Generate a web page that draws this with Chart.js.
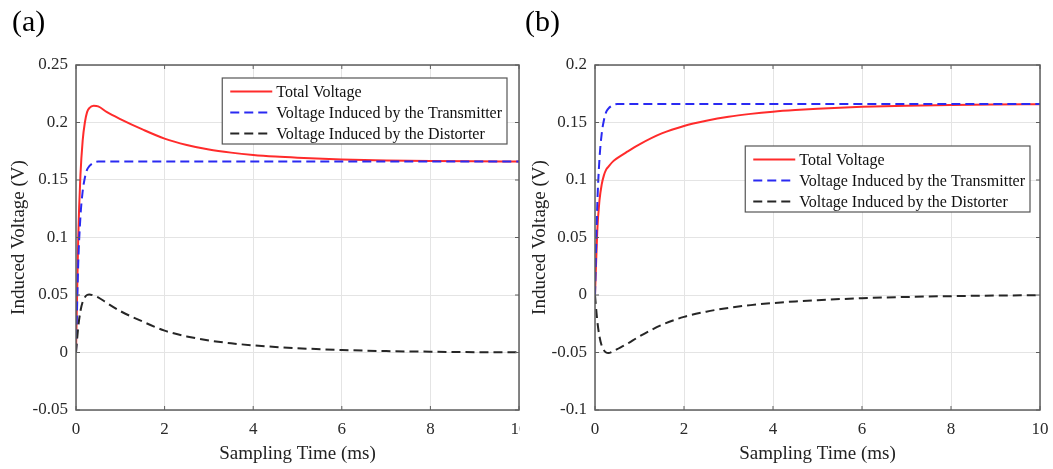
<!DOCTYPE html>
<html>
<head>
<meta charset="utf-8">
<script src="https://cdn.jsdelivr.net/npm/chart.js@4.4.1/dist/chart.umd.min.js"></script>
<style>
  html, body { margin: 0; padding: 0; background: #fff; width: 1053px; height: 469px; overflow: hidden; }
  .panel { position: absolute; top: 0; height: 469px; overflow: hidden; }
  .tag { position: absolute; font-family: 'Liberation Serif', 'Times New Roman', serif; font-size: 30px; line-height: 30px; color: #000; }
</style>
</head>
<body>
<div class="panel" style="left:0;width:520px"><canvas id="chartA" width="545" height="469" style="width:545px;height:469px"></canvas></div>
<div class="panel" style="left:521px;width:537px"><canvas id="chartB" width="537" height="469" style="width:537px;height:469px"></canvas></div>
<div class="tag" style="left:12px;top:6px">(a)</div>
<div class="tag" style="left:525px;top:6px">(b)</div>
<script>
// Sampling instants (ms)
const timeMs = [0, 0.05, 0.1, 0.15, 0.2, 0.25, 0.3, 0.4, 0.5, 0.7, 1, 1.5, 2, 2.5, 3, 3.5, 4, 4.5, 5, 6, 7, 8, 9, 10];

// Voltage induced by the transmitter (same in both cases)
const transmitterV = [0, 0.077, 0.118, 0.140, 0.152, 0.159, 0.162, 0.165, 0.166, 0.166, 0.166, 0.166, 0.166, 0.166, 0.166, 0.166, 0.166, 0.166, 0.166, 0.166, 0.166, 0.166, 0.166, 0.166];

// Case (a)
const distorterA = [0, 0.022, 0.036, 0.044, 0.048, 0.050, 0.0505, 0.0495, 0.048, 0.043, 0.036, 0.027, 0.019, 0.014, 0.0105, 0.0080, 0.0062, 0.0048, 0.0037, 0.0022, 0.0012, 0.0007, 0.0003, 0.0001];
const totalA = [0, 0.099, 0.154, 0.184, 0.200, 0.209, 0.2125, 0.2145, 0.214, 0.209, 0.203, 0.194, 0.186, 0.1805, 0.1765, 0.1738, 0.1718, 0.1704, 0.1694, 0.1679, 0.1670, 0.1665, 0.1662, 0.1661];

// Case (b)
const distorterB = [0, -0.022, -0.036, -0.044, -0.048, -0.050, -0.0505, -0.049, -0.047, -0.043, -0.036, -0.026, -0.019, -0.0145, -0.0112, -0.0088, -0.0070, -0.0056, -0.0045, -0.0028, -0.0017, -0.0010, -0.0005, -0.0002];
const totalB = [0, 0.055, 0.082, 0.096, 0.104, 0.109, 0.1115, 0.116, 0.119, 0.124, 0.131, 0.1405, 0.147, 0.1515, 0.155, 0.1575, 0.1594, 0.1608, 0.1619, 0.1636, 0.1646, 0.1652, 0.1656, 0.1659];

// Tick values
const xTicks = [0, 2, 4, 6, 8, 10];
const yTicksA = [-0.05, 0, 0.05, 0.1, 0.15, 0.2, 0.25];
const yTicksB = [-0.1, -0.05, 0, 0.05, 0.1, 0.15, 0.2];

const seriesLabels = ['Total Voltage', 'Voltage Induced by the Transmitter', 'Voltage Induced by the Distorter'];
const seriesColors = ['#ff2b2b', '#2a2af2', '#262626'];

const SERIF = "'Liberation Serif', 'Times New Roman', serif";
const FRAME = '#5e5e5e';

const pts = ys => timeMs.map((t, i) => ({ x: t, y: ys[i] }));
const fmt = v => String(Number(v.toFixed(2)));

// Box frame, inward ticks and the in-plot legend
const framePlugin = {
  id: 'frame',
  afterDatasetsDraw(chart, args, opts) {
    const { ctx, chartArea: a, scales: { x, y } } = chart;
    ctx.save();
    ctx.strokeStyle = FRAME;
    ctx.lineWidth = 1.5;
    ctx.strokeRect(a.left, a.top, a.right - a.left, a.bottom - a.top);
    ctx.lineWidth = 1;
    ctx.beginPath();
    x.ticks.forEach(t => {
      const px = x.getPixelForValue(t.value);
      ctx.moveTo(px, a.bottom); ctx.lineTo(px, a.bottom - 4);
      ctx.moveTo(px, a.top); ctx.lineTo(px, a.top + 4);
    });
    y.ticks.forEach(t => {
      const py = y.getPixelForValue(t.value);
      ctx.moveTo(a.left, py); ctx.lineTo(a.left + 4, py);
      ctx.moveTo(a.right, py); ctx.lineTo(a.right - 4, py);
    });
    ctx.stroke();

    // legend
    ctx.font = '16px ' + SERIF;
    const ds = chart.data.datasets;
    const textW = Math.max(...ds.map(d => ctx.measureText(d.label).width));
    const w = 54 + textW + 5;
    const h = 66;
    const bx = a.right - opts.right - w;
    const by = a.top + opts.top;
    ctx.fillStyle = '#fff';
    ctx.fillRect(bx, by, w, h);
    ctx.strokeStyle = '#555';
    ctx.lineWidth = 1.2;
    ctx.strokeRect(bx, by, w, h);
    ds.forEach((d, i) => {
      const cy = by + 13.5 + i * 21;
      ctx.strokeStyle = d.borderColor;
      ctx.lineWidth = 2;
      ctx.setLineDash(d.borderDash || []);
      ctx.beginPath();
      ctx.moveTo(bx + 8, cy); ctx.lineTo(bx + 50, cy);
      ctx.stroke();
      ctx.setLineDash([]);
      ctx.fillStyle = '#111';
      ctx.textBaseline = 'middle';
      ctx.textAlign = 'left';
      ctx.fillText(d.label, bx + 54, cy + 1);
    });
    ctx.restore();
  }
};

function makeChart(id, total, distorter, yTicks, yMin, yMax, yWidth, padRight, legendPos) {
  const datasets = [
    { label: seriesLabels[0], data: pts(total), borderColor: seriesColors[0], borderWidth: 2, order: 3 },
    { label: seriesLabels[1], data: pts(transmitterV), borderColor: seriesColors[1], borderWidth: 2, borderDash: [9, 5], order: 2 },
    { label: seriesLabels[2], data: pts(distorter), borderColor: seriesColors[2], borderWidth: 2, borderDash: [9, 5], order: 1 }
  ];
  datasets.forEach(d => { d.pointRadius = 0; d.fill = false; d.cubicInterpolationMode = 'monotone'; });
  return new Chart(document.getElementById(id), {
    type: 'line',
    data: { datasets },
    plugins: [framePlugin],
    options: {
      responsive: false,
      animation: false,
      layout: { padding: { top: 65, right: padRight, bottom: 0, left: 0 } },
      plugins: {
        legend: { display: false },
        tooltip: { enabled: false },
        frame: legendPos
      },
      scales: {
        x: {
          type: 'linear', min: 0, max: 10,
          afterBuildTicks: s => { s.ticks = xTicks.map(v => ({ value: v })); },
          afterFit: s => { s.height = 59; },
          grid: { color: '#e4e4e4', lineWidth: 1, drawTicks: false },
          border: { display: false },
          ticks: { color: '#2a2a2a', font: { family: SERIF, size: 17 }, padding: 9, maxRotation: 0, callback: v => fmt(v) },
          title: { display: true, text: 'Sampling Time (ms)', color: '#222', font: { family: SERIF, size: 19 }, padding: { top: 4, bottom: 4 } }
        },
        y: {
          type: 'linear', min: yMin, max: yMax,
          afterBuildTicks: s => { s.ticks = yTicks.map(v => ({ value: v })); },
          afterFit: s => { s.width = yWidth; },
          grid: { color: '#e4e4e4', lineWidth: 1, drawTicks: false },
          border: { display: false },
          ticks: { color: '#2a2a2a', font: { family: SERIF, size: 17 }, padding: 8, callback: v => fmt(v) },
          title: { display: true, text: 'Induced Voltage (V)', color: '#222', font: { family: SERIF, size: 19 }, padding: { top: 8, bottom: 8 } }
        }
      }
    }
  });
}

makeChart('chartA', totalA, distorterA, yTicksA, -0.05, 0.25, 76, 26, { right: 12, top: 13 });
makeChart('chartB', totalB, distorterB, yTicksB, -0.1, 0.2, 74, 18, { right: 10, top: 81 });
</script>
</body>
</html>
